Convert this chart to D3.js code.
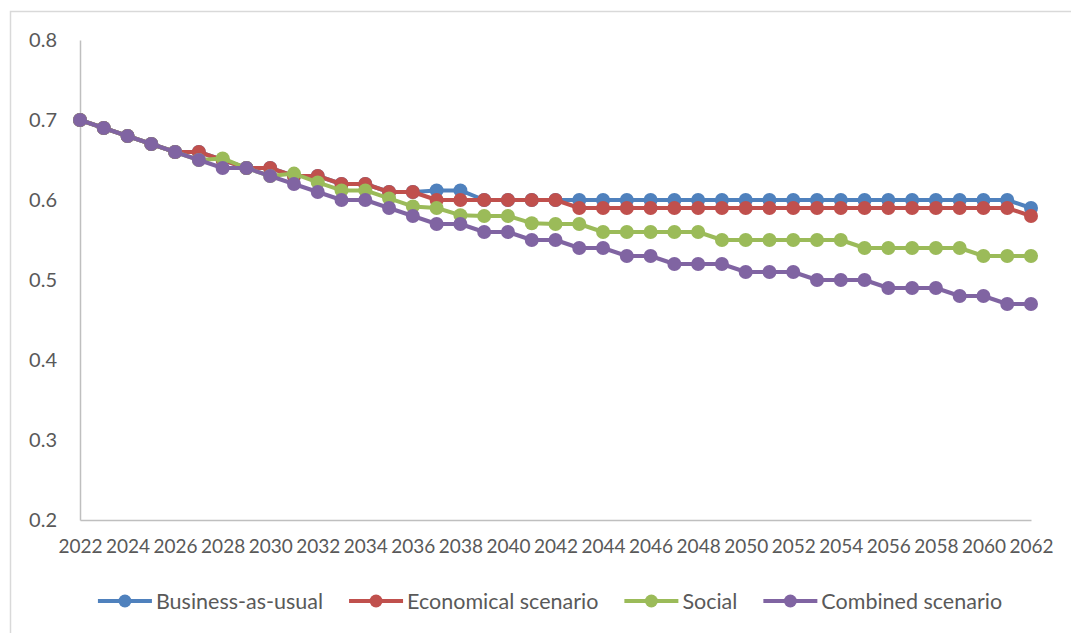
<!DOCTYPE html>
<html>
<head>
<meta charset="utf-8">
<script src="https://cdn.jsdelivr.net/npm/d3@7"></script>
<style>
  html, body { margin: 0; padding: 0; background: #fff; }
  svg { display: block; }
  text { font-family: Lato, "Open Sans", sans-serif; fill: #595959; }
</style>
</head>
<body>
<svg id="chart" width="1071" height="633"></svg>
<script>
// Scenario projections, 2022–2062
const years = d3.range(2022, 2063);
const yTicks = [0.2, 0.3, 0.4, 0.5, 0.6, 0.7, 0.8];
const xTicks = d3.range(2022, 2063, 2);

const seriesNames = ["Business-as-usual", "Economical scenario", "Social", "Combined scenario"];
const seriesColors = ["#4F81BD", "#C0504D", "#9BBB59", "#8064A2"];

const businessAsUsual = [
  0.70, 0.69, 0.68, 0.67, 0.66, 0.66, 0.65, 0.64, 0.64, 0.63,
  0.63, 0.62, 0.62, 0.61, 0.61, 0.612, 0.612, 0.60, 0.60, 0.60,
  0.60, 0.60, 0.60, 0.60, 0.60, 0.60, 0.60, 0.60, 0.60, 0.60,
  0.60, 0.60, 0.60, 0.60, 0.60, 0.60, 0.60, 0.60, 0.60, 0.60,
  0.59
];
const economical = [
  0.70, 0.69, 0.68, 0.67, 0.66, 0.66, 0.65, 0.64, 0.64, 0.63,
  0.63, 0.62, 0.62, 0.61, 0.61, 0.60, 0.60, 0.60, 0.60, 0.60,
  0.60, 0.59, 0.59, 0.59, 0.59, 0.59, 0.59, 0.59, 0.59, 0.59,
  0.59, 0.59, 0.59, 0.59, 0.59, 0.59, 0.59, 0.59, 0.59, 0.59,
  0.58
];
const social = [
  0.70, 0.69, 0.68, 0.67, 0.66, 0.65, 0.652, 0.64, 0.63, 0.633,
  0.622, 0.612, 0.612, 0.602, 0.592, 0.59, 0.581, 0.58, 0.58, 0.571,
  0.57, 0.57, 0.56, 0.56, 0.56, 0.56, 0.56, 0.55, 0.55, 0.55,
  0.55, 0.55, 0.55, 0.54, 0.54, 0.54, 0.54, 0.54, 0.53, 0.53,
  0.53
];
const combined = [
  0.70, 0.69, 0.68, 0.67, 0.66, 0.65, 0.64, 0.64, 0.63, 0.62,
  0.61, 0.60, 0.60, 0.59, 0.58, 0.57, 0.57, 0.56, 0.56, 0.55,
  0.55, 0.54, 0.54, 0.53, 0.53, 0.52, 0.52, 0.52, 0.51, 0.51,
  0.51, 0.50, 0.50, 0.50, 0.49, 0.49, 0.49, 0.48, 0.48, 0.47,
  0.47
];
const seriesValues = [businessAsUsual, economical, social, combined];

const svg = d3.select("#chart");
const W = 1071, H = 633;
const plot = { left: 80, right: 1031, top: 40, bottom: 520 };

// outer chart frame
svg.append("rect")
  .attr("x", 10.5).attr("y", 11.5)
  .attr("width", W + 20).attr("height", H + 20)
  .attr("fill", "none").attr("stroke", "#d9d9d9").attr("stroke-width", 1.5);

const x = d3.scaleLinear().domain([2022, 2062]).range([plot.left, plot.right]);
const y = d3.scaleLinear().domain([0.2, 0.8]).range([plot.bottom, plot.top]);

// y axis
const yAxis = svg.append("g")
  .attr("transform", `translate(${plot.left},0)`)
  .call(d3.axisLeft(y).tickValues(yTicks).tickFormat(d3.format(".1f"))
    .tickSize(0).tickSizeOuter(0).tickPadding(23));
yAxis.select(".domain").attr("stroke", "#bfbfbf").attr("stroke-width", 1.5);
yAxis.selectAll("text").style("font-size", "20px").attr("fill", "#595959");

// x axis
const xAxis = svg.append("g")
  .attr("transform", `translate(0,${plot.bottom})`)
  .call(d3.axisBottom(x).tickValues(xTicks).tickFormat(d3.format("d"))
    .tickSize(0).tickSizeOuter(0).tickPadding(20));
xAxis.select(".domain").attr("stroke", "#bfbfbf").attr("stroke-width", 1.5);
xAxis.selectAll("text").style("font-size", "19px").attr("fill", "#595959");

// series lines and markers
const line = d3.line().x((d, i) => x(years[i])).y(d => y(d));
seriesValues.forEach((vals, k) => {
  const g = svg.append("g");
  g.append("path")
    .datum(vals)
    .attr("d", line)
    .attr("fill", "none")
    .attr("stroke", seriesColors[k])
    .attr("stroke-width", 4)
    .attr("stroke-linejoin", "round");
  g.selectAll("circle")
    .data(vals)
    .join("circle")
    .attr("cx", (d, i) => x(years[i]))
    .attr("cy", d => y(d))
    .attr("r", 7)
    .attr("fill", seriesColors[k]);
});

// legend
const legend = svg.append("g").attr("transform", "translate(0,601)");
const items = legend.selectAll("g").data(seriesNames).join("g");
items.append("line")
  .attr("x1", 0).attr("x2", 54).attr("y1", 0).attr("y2", 0)
  .attr("stroke", (d, i) => seriesColors[i]).attr("stroke-width", 4);
items.append("circle")
  .attr("cx", 27).attr("cy", 0).attr("r", 6.5)
  .attr("fill", (d, i) => seriesColors[i]);
items.append("text")
  .attr("x", 58).attr("y", 0).attr("dy", "0.35em")
  .style("font-size", "21.5px")
  .text(d => d);
let cursor = 0;
const widths = [];
items.each(function () {
  const tw = d3.select(this).select("text").node().getComputedTextLength();
  widths.push(58 + tw);
});
const gap = 26;
const total = d3.sum(widths) + gap * (widths.length - 1);
cursor = (90 + 1010) / 2 - total / 2;
items.attr("transform", (d, i) => {
  const t = `translate(${cursor},0)`;
  cursor += widths[i] + gap;
  return t;
});
</script>
</body>
</html>
